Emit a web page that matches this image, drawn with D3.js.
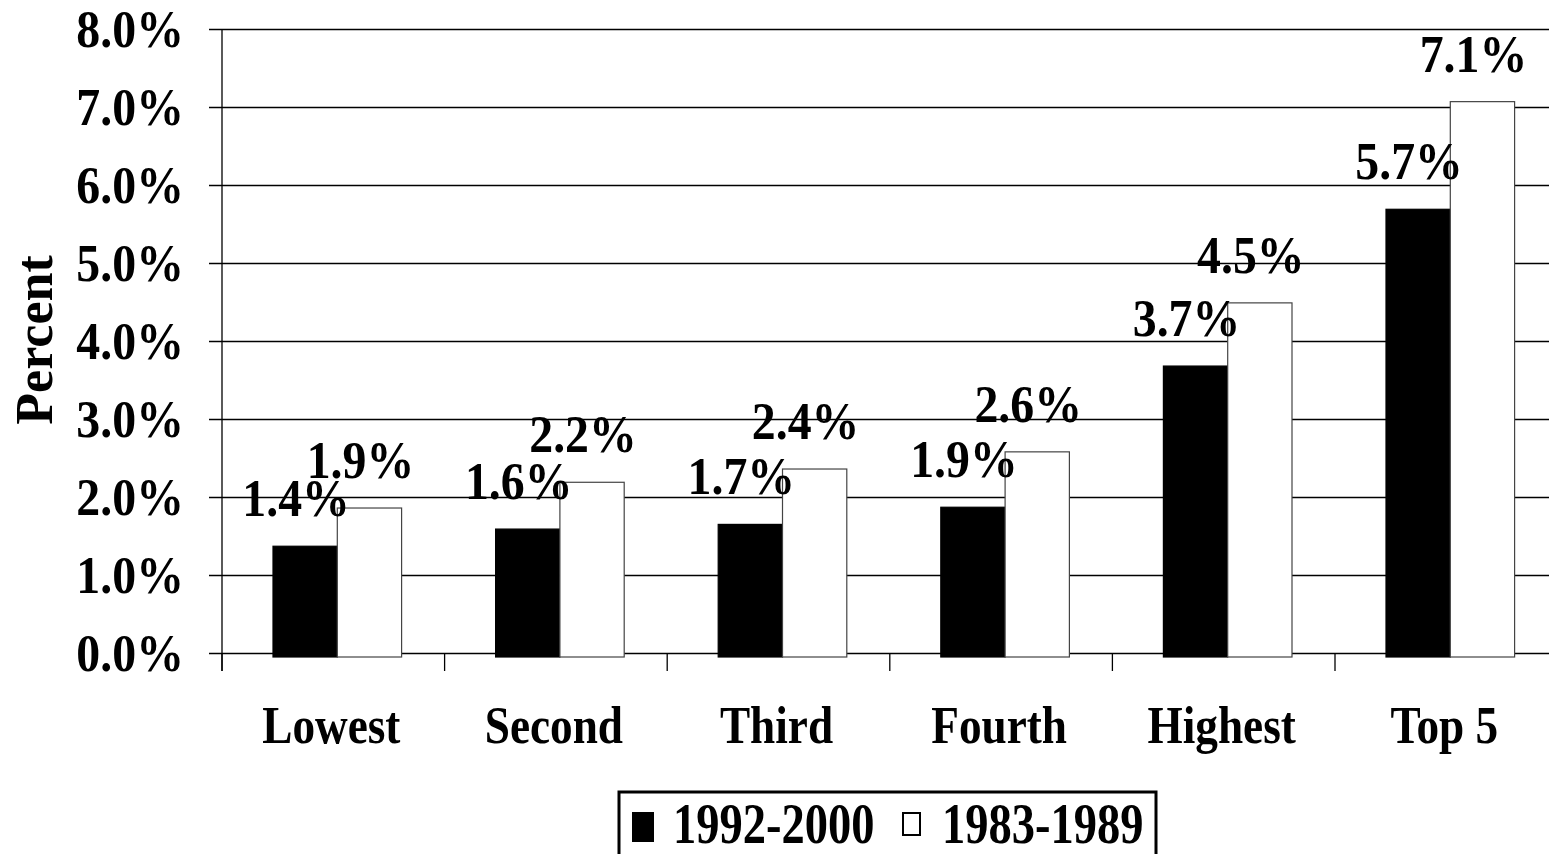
<!DOCTYPE html>
<html>
<head>
<meta charset="utf-8">
<script src="https://cdn.jsdelivr.net/npm/d3@7/dist/d3.min.js"></script>
<style>
  html, body { margin: 0; padding: 0; background: #fff; }
  svg { display: block; }
  text { font-family: "Liberation Serif", "Times New Roman", serif; font-weight: bold; fill: #000; }
</style>
</head>
<body>
<svg id="chart" width="1549" height="854"></svg>
<script>
// ---- data ----
const categories = ["Lowest", "Second", "Third", "Fourth", "Highest", "Top 5"];
const seriesNames = ["1992-2000", "1983-1989"];
const values1992_2000 = [0.0142, 0.0164, 0.0170, 0.0192, 0.0373, 0.0574];
const values1983_1989 = [0.0191, 0.0224, 0.0241, 0.0263, 0.0454, 0.0712];
const yTickValues = [0, 0.01, 0.02, 0.03, 0.04, 0.05, 0.06, 0.07, 0.08];

const seriesColors = { "1992-2000": "#000", "1983-1989": "#fff" };
const seriesStroke = { "1992-2000": "#000", "1983-1989": "#444" };

const W = 1549, H = 854;
const svg = d3.select("#chart");
svg.append("rect").attr("width", W).attr("height", H).attr("fill", "#fff");

const plotLeft = 222, plotTop = 29, plotBottom = 653, gridLeft = 209;
const step = 222.6;

const y = d3.scaleLinear().domain([0, 0.08]).range([plotBottom, plotTop]);
const x0 = d3.scaleBand().domain(categories).range([plotLeft, plotLeft + step * categories.length]).paddingInner(0).paddingOuter(0);
const x1 = d3.scaleBand().domain(seriesNames).range([0, x0.bandwidth()]).paddingInner(0).paddingOuter(0.731);

const fmt = d3.format(".1%");

// gridlines + y tick labels
const yAxis = d3.axisLeft(y).tickValues(yTickValues).tickFormat(fmt)
  .tickSize(-(W - gridLeft)).tickPadding(25);
const gy = svg.append("g").attr("transform", `translate(${gridLeft},0)`).call(yAxis);
gy.select(".domain").remove();
gy.selectAll(".tick line").attr("stroke", "#000").attr("stroke-width", 1.3);
gy.selectAll(".tick text")
  .attr("font-size", 52)
  .attr("font-family", '"Liberation Serif", "Times New Roman", serif')
  .attr("font-weight", "bold")
  .attr("fill", "#000")
  .attr("dy", "0.34em")
  .attr("transform", function() {
    const xx = +d3.select(this).attr("x");
    d3.select(this).attr("x", 0);
    return `translate(${xx},0) scale(0.92,1)`;
  });

// y axis line
svg.append("line").attr("x1", plotLeft).attr("x2", plotLeft)
  .attr("y1", plotTop).attr("y2", plotBottom + 18)
  .attr("stroke", "#000").attr("stroke-width", 1.3);

// category tick marks
const tickPos = categories.map(c => x0(c)).concat([x0(categories[categories.length - 1]) + x0.bandwidth()]);
svg.append("g").selectAll("line").data(tickPos).join("line")
  .attr("x1", d => d).attr("x2", d => d)
  .attr("y1", plotBottom).attr("y2", plotBottom + 18)
  .attr("stroke", "#000").attr("stroke-width", 1.3);

// bars
const rows = categories.map((c, i) => ({
  cat: c,
  vals: [
    { s: "1992-2000", v: values1992_2000[i] },
    { s: "1983-1989", v: values1983_1989[i] }
  ]
}));

const barOff = 4;
const gBars = svg.append("g").attr("transform", `translate(${barOff},${barOff})`);
const groups = gBars.selectAll("g.cat").data(rows).join("g")
  .attr("class", "cat")
  .attr("transform", d => `translate(${x0(d.cat)},0)`);

groups.selectAll("rect").data(d => d.vals).join("rect")
  .attr("x", d => x1(d.s))
  .attr("width", x1.bandwidth())
  .attr("y", d => y(d.v))
  .attr("height", d => y(0) - y(d.v))
  .attr("fill", d => seriesColors[d.s])
  .attr("stroke", d => seriesStroke[d.s])
  .attr("stroke-width", 1.2);

// value labels
groups.selectAll("text").data(d => d.vals).join("text")
  .attr("text-anchor", "middle")
  .attr("font-size", 52)
  .attr("transform", d => `translate(${x1(d.s) + x1.bandwidth() / 2 - 9},${y(d.v) - 30}) scale(0.92,1)`)
  .text(d => fmt(d.v));

// category labels
svg.append("g").selectAll("text").data(categories).join("text")
  .attr("text-anchor", "middle")
  .attr("font-size", 52)
  .attr("transform", d => `translate(${x0(d) + x0.bandwidth() / 2 - 2},743) scale(0.87,1)`)
  .text(d => d);

// y title
svg.append("text")
  .attr("text-anchor", "middle")
  .attr("font-size", 52)
  .attr("transform", "translate(52,340) rotate(-90)")
  .text("Percent");

// legend
const lg = svg.append("g");
lg.append("rect").attr("x", 619).attr("y", 792).attr("width", 537).attr("height", 80)
  .attr("fill", "#fff").attr("stroke", "#000").attr("stroke-width", 3);
const legendItems = [
  { s: seriesNames[0], sx: 632, sy: 812, sw: 22, sh: 30, tx: 673 },
  { s: seriesNames[1], sx: 903, sy: 813, sw: 17, sh: 22, tx: 942 }
];
lg.selectAll("rect.sw").data(legendItems).join("rect")
  .attr("class", "sw")
  .attr("x", d => d.sx).attr("y", d => d.sy)
  .attr("width", d => d.sw).attr("height", d => d.sh)
  .attr("fill", d => seriesColors[d.s])
  .attr("stroke", "#000").attr("stroke-width", d => d.s === seriesNames[0] ? 0 : 2);
lg.selectAll("text").data(legendItems).join("text")
  .attr("font-size", 56)
  .attr("transform", d => `translate(${d.tx},843) scale(0.83,1)`)
  .text(d => d.s);
</script>
</body>
</html>
